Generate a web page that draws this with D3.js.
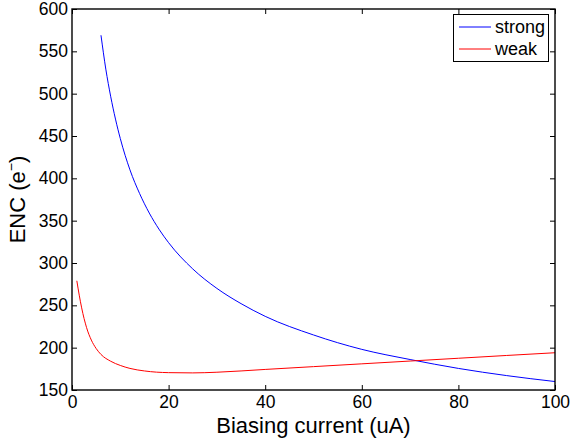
<!DOCTYPE html>
<html lang="en">
<head>
	<meta charset="utf-8">
	<title>ENC vs biasing current</title>
	<script src="https://cdn.jsdelivr.net/npm/d3@7"></script>
	<style>
		body { margin: 0; background: #fff; }
		text { font-family: "Liberation Sans", Arial, Helvetica, sans-serif; fill: #000; }
	</style>
</head>
<body>
<div id="chart"></div>
<script type="text/javascript">

	// data
	var strongCurrent = [6, 7, 8, 9, 10, 12, 14, 16, 18, 20, 25, 30, 35, 40, 50, 60, 70, 80, 90, 100];
	var strongENC = [569, 529, 497, 470, 447, 410, 382, 359, 340, 324, 293, 270, 252, 237, 215, 198, 186, 175.5, 167, 160];

	var weakCurrent = [1, 1.5, 2, 3, 4, 5, 6, 8, 10, 12, 15, 20, 25, 30, 40, 50, 60, 70, 80, 90, 100];
	var weakENC = [279, 262, 247, 224, 209, 199, 192, 184, 179, 175.5, 172.5, 170.5, 170.2, 171, 174.3, 177.6, 180.9, 184.2, 187.5, 190.8, 194];

	var seriesNames = ["strong", "weak"];
	var seriesColors = ["#0000ff", "#ff0000"];

	var xTicks = [0, 20, 40, 60, 80, 100];
	var yTicks = [150, 200, 250, 300, 350, 400, 450, 500, 550, 600];

	// plot area (note: "top" is taken by window.top, so keep these in an object)
	var plot = {left: 72, right: 555, top: 9, bottom: 390};

	var svg = d3.select("#chart")
		.append("svg")
		.attr("width", 570)
		.attr("height", 445);

	var xScale = d3.scaleLinear().domain([0, 100]).range([plot.left, plot.right]);
	var yScale = d3.scaleLinear().domain([150, 600]).range([plot.bottom, plot.top]);

	// axes, ticks pointing inwards on all four sides
	var xAxis = d3.axisBottom(xScale).tickValues(xTicks).tickSizeInner(-5).tickSizeOuter(0).tickPadding(6);
	var yAxis = d3.axisLeft(yScale).tickValues(yTicks).tickSizeInner(-5).tickSizeOuter(0).tickPadding(4);
	var xTop = d3.axisTop(xScale).tickValues(xTicks).tickSizeInner(-5).tickSizeOuter(0).tickFormat("");
	var yRight = d3.axisRight(yScale).tickValues(yTicks).tickSizeInner(-5).tickSizeOuter(0).tickFormat("");

	function styleAxis(g) {
		g.select(".domain").remove();
		g.selectAll(".tick line").attr("stroke", "#000").attr("stroke-width", 1);
		g.selectAll(".tick text").style("font-size", "17.5px").attr("fill", "#000");
	}

	svg.append("g").attr("transform", "translate(0," + plot.bottom + ")").call(xAxis).call(styleAxis);
	svg.append("g").attr("transform", "translate(" + plot.left + ",0)").call(yAxis).call(styleAxis);
	svg.append("g").attr("transform", "translate(0," + plot.top + ")").call(xTop).call(styleAxis);
	svg.append("g").attr("transform", "translate(" + plot.right + ",0)").call(yRight).call(styleAxis);

	// curves
	var line = d3.line()
		.x(function(d) { return xScale(d[0]); })
		.y(function(d) { return yScale(d[1]); })
		.curve(d3.curveMonotoneX);

	var series = [
		d3.zip(strongCurrent, strongENC),
		d3.zip(weakCurrent, weakENC)
	];

	svg.selectAll("path.curve")
		.data(series)
		.enter()
		.append("path")
		.attr("class", "curve")
		.attr("d", line)
		.attr("fill", "none")
		.attr("stroke", function(d, i) { return seriesColors[i]; })
		.attr("stroke-width", 1);

	// box around the plot
	svg.append("rect")
		.attr("x", plot.left)
		.attr("y", plot.top)
		.attr("width", plot.right - plot.left)
		.attr("height", plot.bottom - plot.top)
		.attr("fill", "none")
		.attr("stroke", "#000")
		.attr("stroke-width", 1.4);

	// axis labels
	svg.append("text")
		.attr("x", (plot.left + plot.right) / 2)
		.attr("y", 433)
		.attr("text-anchor", "middle")
		.style("font-size", "22px")
		.text("Biasing current (uA)");

	var yLabel = svg.append("text")
		.attr("transform", "translate(25," + ((plot.top + plot.bottom) / 2) + ") rotate(-90)")
		.attr("text-anchor", "middle")
		.style("font-size", "22px");
	yLabel.append("tspan").text("ENC (e");
	yLabel.append("tspan").attr("dy", -9).style("font-size", "14px").text("\u2212");
	yLabel.append("tspan").attr("dy", 9).text(")");

	// legend
	var legend = svg.append("g");
	legend.append("rect")
		.attr("x", 453.5)
		.attr("y", 14.5)
		.attr("width", 95)
		.attr("height", 47)
		.attr("fill", "#fff")
		.attr("stroke", "#000")
		.attr("stroke-width", 1);

	var items = legend.selectAll("g.item")
		.data(seriesNames)
		.enter()
		.append("g")
		.attr("class", "item")
		.attr("transform", function(d, i) { return "translate(0," + (27 + i * 22) + ")"; });

	items.append("line")
		.attr("x1", 459)
		.attr("x2", 491)
		.attr("stroke", function(d, i) { return seriesColors[i]; })
		.attr("stroke-width", 1);

	items.append("text")
		.attr("x", 495)
		.attr("y", 6)
		.style("font-size", "18px")
		.text(function(d) { return d; });

</script>
</body>
</html>
